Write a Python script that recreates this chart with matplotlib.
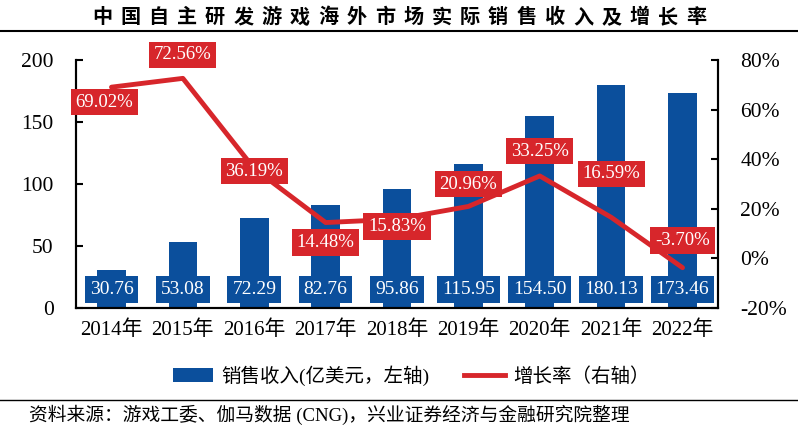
import matplotlib.pyplot as plt
from matplotlib.lines import Line2D
from matplotlib.patches import Patch

plt.rcParams['font.family'] = ['Liberation Serif', 'Noto Sans CJK SC']

years = ['2014年', '2015年', '2016年', '2017年', '2018年', '2019年', '2020年', '2021年', '2022年']
revenue = [30.76, 53.08, 72.29, 82.76, 95.86, 115.95, 154.50, 180.13, 173.46]
growth = [69.02, 72.56, 36.19, 14.48, 15.83, 20.96, 33.25, 16.59, -3.70]
# label offsets (in % units on right axis) for growth labels
growth_offsets = [-6, 9.5, -1, -8, -3, 9, 10, 17.5, 11]

BLUE = '#0B4F9C'
RED = '#D7262B'

fig = plt.figure(figsize=(7.98, 4.34), dpi=100)
ax = fig.add_axes([0.095, 0.29, 0.805, 0.572])
ax2 = ax.twinx()

x = list(range(len(years)))
ax.bar(x, revenue, width=0.4, color=BLUE, zorder=2)
ax.set_ylim(0, 200)
ax.set_yticks([0, 50, 100, 150, 200])
ax.set_xlim(-0.5, len(years) - 0.5)
ax.set_xticks(x)
ax.set_xticklabels(years)

for xi, v in zip(x, revenue):
    ax.text(xi, 15, f'{v:.2f}', ha='center', va='center', color='white', fontsize=14,
            bbox=dict(boxstyle='square,pad=0.25', facecolor=BLUE, edgecolor='none'), zorder=3)

ax2.plot(x, growth, color=RED, lw=3.5, solid_capstyle='round', zorder=4)
ax2.set_ylim(-20, 80)
ax2.set_yticks([-20, 0, 20, 40, 60, 80])
ax2.set_yticklabels([f'{t}%' for t in [-20, 0, 20, 40, 60, 80]])
for xi, g, off in zip(x, growth, growth_offsets):
    ax2.text(xi - 0.1 if xi == 0 else xi, g + off, f'{g:.2f}%', ha='center', va='center',
             color='white', fontsize=13.5,
             bbox=dict(boxstyle='square,pad=0.25', facecolor=RED, edgecolor='none'), zorder=5)

for a in (ax, ax2):
    a.spines['top'].set_visible(False)
    for s in ('left', 'right', 'bottom'):
        a.spines[s].set_linewidth(1.5)
        a.spines[s].set_color('black')
    a.tick_params(axis='y', direction='in', length=5, width=1.5, labelsize=15.5)
ax.tick_params(axis='x', length=0, labelsize=15, pad=9)
ax.tick_params(axis='y', pad=16)
ax2.tick_params(axis='y', pad=16)

handles = [Patch(facecolor=BLUE, edgecolor='none'),
           Line2D([0], [0], color=RED, lw=3.5)]
fig.legend(handles, ['销售收入(亿美元，左轴)', '增长率（右轴）'], loc='center',
           bbox_to_anchor=(0.515, 0.135), ncol=2, frameon=False, fontsize=14,
           handlelength=2.1, handletextpad=0.4, columnspacing=1.8)

title = '中国自主研发游戏海外市场实际销售收入及增长率'
step = 28.3 / 798
x0 = 399 / 798 - step * (len(title) - 1) / 2
for i, ch in enumerate(title):
    fig.text(x0 + i * step, 0.958, ch, ha='center', va='center',
             fontsize=14.5, fontweight='bold')
fig.add_artist(Line2D([0, 1], [0.928, 0.928], color='black', lw=1.5, transform=fig.transFigure))
fig.add_artist(Line2D([0, 1], [0.078, 0.078], color='black', lw=1.0, transform=fig.transFigure))
fig.text(0.036, 0.045, '资料来源：游戏工委、伽马数据 (CNG)，兴业证券经济与金融研究院整理', ha='left',
         va='center', fontsize=13.5)

fig.savefig('out.png', dpi=100, facecolor='white')
